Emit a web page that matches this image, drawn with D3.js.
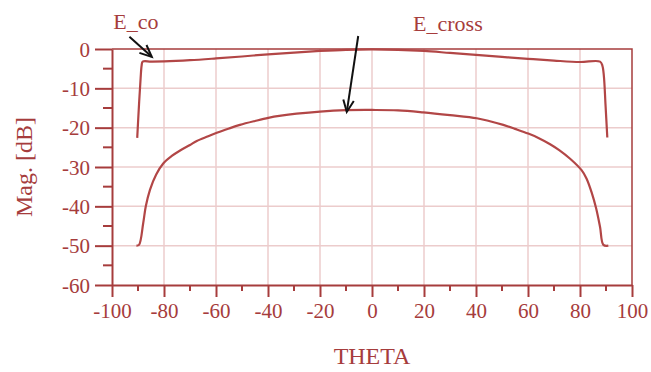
<!DOCTYPE html>
<html>
<head>
<meta charset="utf-8">
<script src="https://cdn.jsdelivr.net/npm/d3@7"></script>
<style>
  body { margin: 0; background: #fff; }
  text { font-family: "Liberation Serif", "Times New Roman", serif; fill: #a63c3c; }
</style>
</head>
<body>
<div id="chart"></div>
<script>
// data
var coTheta = [-90.3, -89.6, -89.0, -88.6, -88.2, -85, -80, -70, -60, -50, -40, -30, -20, -10, 0,
               10, 20, 30, 40, 50, 60, 70, 80, 87.7, 88.6, 89.2, 89.8, 90.5];
var coMag   = [-22.6, -14, -7.5, -4.2, -3.2, -3.2, -3.15, -2.85, -2.4, -1.9, -1.35, -0.9, -0.5, -0.2, -0.1,
               -0.2, -0.5, -1.0, -1.5, -2.0, -2.5, -2.95, -3.3, -3.2, -4.2, -7, -14, -22.5];

var crossTheta = [-90.6, -89.6, -88, -87, -85.4, -83, -80.3, -77, -73.8, -70, -67.4, -63, -59.7, -55, -50.8,
                  -45, -39.9, -35, -29, -20, -10, 0, 10, 19.7, 30, 40.3, 45, 50.5, 55, 60.1, 64, 68.5,
                  72, 76.2, 80.6, 82.5, 84.5, 86.2, 87.7, 89, 90.9];
var crossMag   = [-50, -49.8, -44.3, -40, -35.8, -31.9, -29.1, -27.2, -25.8, -24.4, -23.4, -22.2, -21.3, -20.2, -19.3,
                  -18.3, -17.5, -16.95, -16.45, -15.9, -15.55, -15.5, -15.6, -16.1, -16.8, -17.6, -18.3, -19.3, -20.3, -21.5, -22.6, -24.2,
                  -25.7, -27.9, -30.8, -32.9, -36.5, -40.5, -45.2, -49.8, -50];

var xTicks = [-100, -80, -60, -40, -20, 0, 20, 40, 60, 80, 100];
var xMinor = [-90, -70, -50, -30, -10, 10, 30, 50, 70, 90];
var yTicks = [0, -10, -20, -30, -40, -50, -60];
var yMinor = [-5, -15, -25, -35, -45, -55];

// annotation arrows in data units: [label, labelTheta, labelMag, fromTheta, fromMag, toTheta, toMag]
var notes = [
  ["E_co", -99.5, 5.0, -93.3, 3.1, -84.7, -2.0],
  ["E_cross", 15.8, 4.6, -5.3, 3.3, -9.7, -16.0]
];

(function() {
var width = 651, height = 372;
var mLeft = 112, mRight = 632, mTop = 49, mBottom = 285;
var axisColor = "#a63c3c", gridColor = "#eccccc", lineColor = "#b24646";

var svg = d3.select("#chart").append("svg")
    .attr("width", width)
    .attr("height", height);

var x = d3.scaleLinear().domain([-100, 100]).range([mLeft, mRight]);
var y = d3.scaleLinear().domain([-60, 0]).range([mBottom, mTop]);

// grid
svg.append("g").selectAll("line")
    .data(xTicks.slice(1, -1))
    .enter().append("line")
    .attr("x1", function(d) { return x(d); })
    .attr("x2", function(d) { return x(d); })
    .attr("y1", mTop).attr("y2", mBottom)
    .style("stroke", gridColor).style("stroke-width", 1.5);

svg.append("g").selectAll("line")
    .data(yTicks.slice(1, -1))
    .enter().append("line")
    .attr("y1", function(d) { return y(d); })
    .attr("y2", function(d) { return y(d); })
    .attr("x1", mLeft).attr("x2", mRight)
    .style("stroke", gridColor).style("stroke-width", 1.5);

// frame top and right
svg.append("path")
    .attr("d", "M" + mLeft + "," + mTop + "H" + mRight + "V" + mBottom)
    .style("fill", "none").style("stroke", axisColor).style("stroke-width", 1.5);

// axes (hyphen minus like the original)
var fmt = function(d) { return String(d); };
var xAxis = d3.axisBottom(x).tickValues(xTicks).tickFormat(fmt).tickSize(12).tickPadding(6).tickSizeOuter(0);
var gx = svg.append("g")
    .attr("transform", "translate(0," + mBottom + ")")
    .call(xAxis);

var yAxis = d3.axisLeft(y).tickValues(yTicks).tickFormat(fmt).tickSize(17).tickPadding(5).tickSizeOuter(0);
var gy = svg.append("g")
    .attr("transform", "translate(" + mLeft + ",0)")
    .call(yAxis);

[gx, gy].forEach(function(g) {
  g.select(".domain").style("stroke", axisColor).style("stroke-width", 2);
  g.selectAll(".tick line").style("stroke", axisColor).style("stroke-width", 2);
  g.selectAll(".tick text")
    .style("font-family", "'Liberation Serif', serif")
    .style("font-size", "21px")
    .style("fill", axisColor);
});
gy.selectAll(".tick text").attr("dy", "0.34em");

// minor ticks
svg.append("g").selectAll("line")
    .data(xMinor)
    .enter().append("line")
    .attr("x1", function(d) { return x(d); })
    .attr("x2", function(d) { return x(d); })
    .attr("y1", mBottom).attr("y2", mBottom + 6)
    .style("stroke", axisColor).style("stroke-width", 2);

svg.append("g").selectAll("line")
    .data(yMinor)
    .enter().append("line")
    .attr("y1", function(d) { return y(d); })
    .attr("y2", function(d) { return y(d); })
    .attr("x1", mLeft - 9).attr("x2", mLeft)
    .style("stroke", axisColor).style("stroke-width", 2);

// curves
var line = d3.line()
    .x(function(d) { return x(d[0]); })
    .y(function(d) { return y(d[1]); })
    .curve(d3.curveCatmullRom.alpha(0.5));

svg.append("path")
    .datum(d3.zip(coTheta, coMag))
    .attr("d", line)
    .style("fill", "none").style("stroke", lineColor).style("stroke-width", 2.2);

svg.append("path")
    .datum(d3.zip(crossTheta, crossMag))
    .attr("d", line)
    .style("fill", "none").style("stroke", lineColor).style("stroke-width", 2.2);

// axis titles
svg.append("text")
    .attr("x", (mLeft + mRight) / 2)
    .attr("y", 364)
    .attr("text-anchor", "middle")
    .style("font-size", "24px")
    .text("THETA");

svg.append("text")
    .attr("transform", "translate(32," + ((mTop + mBottom) / 2) + ") rotate(-90)")
    .attr("text-anchor", "middle")
    .style("font-size", "24px")
    .text("Mag. [dB]");

// annotations
notes.forEach(function(n) {
  svg.append("text")
      .attr("x", x(n[1]))
      .attr("y", y(n[2]))
      .style("font-size", "22px")
      .text(n[0]);

  var x1 = x(n[3]), y1 = y(n[4]), x2 = x(n[5]), y2 = y(n[6]);
  var ang = Math.atan2(y2 - y1, x2 - x1);
  var head = 13, spread = 0.42;
  svg.append("line")
      .attr("x1", x1).attr("y1", y1).attr("x2", x2).attr("y2", y2)
      .style("stroke", "#111").style("stroke-width", 2);
  svg.append("path")
      .attr("d", "M" + (x2 - head * Math.cos(ang - spread)) + "," + (y2 - head * Math.sin(ang - spread)) +
                 "L" + x2 + "," + y2 +
                 "L" + (x2 - head * Math.cos(ang + spread)) + "," + (y2 - head * Math.sin(ang + spread)))
      .style("fill", "none").style("stroke", "#111").style("stroke-width", 2);
});
})();
</script>
</body>
</html>
